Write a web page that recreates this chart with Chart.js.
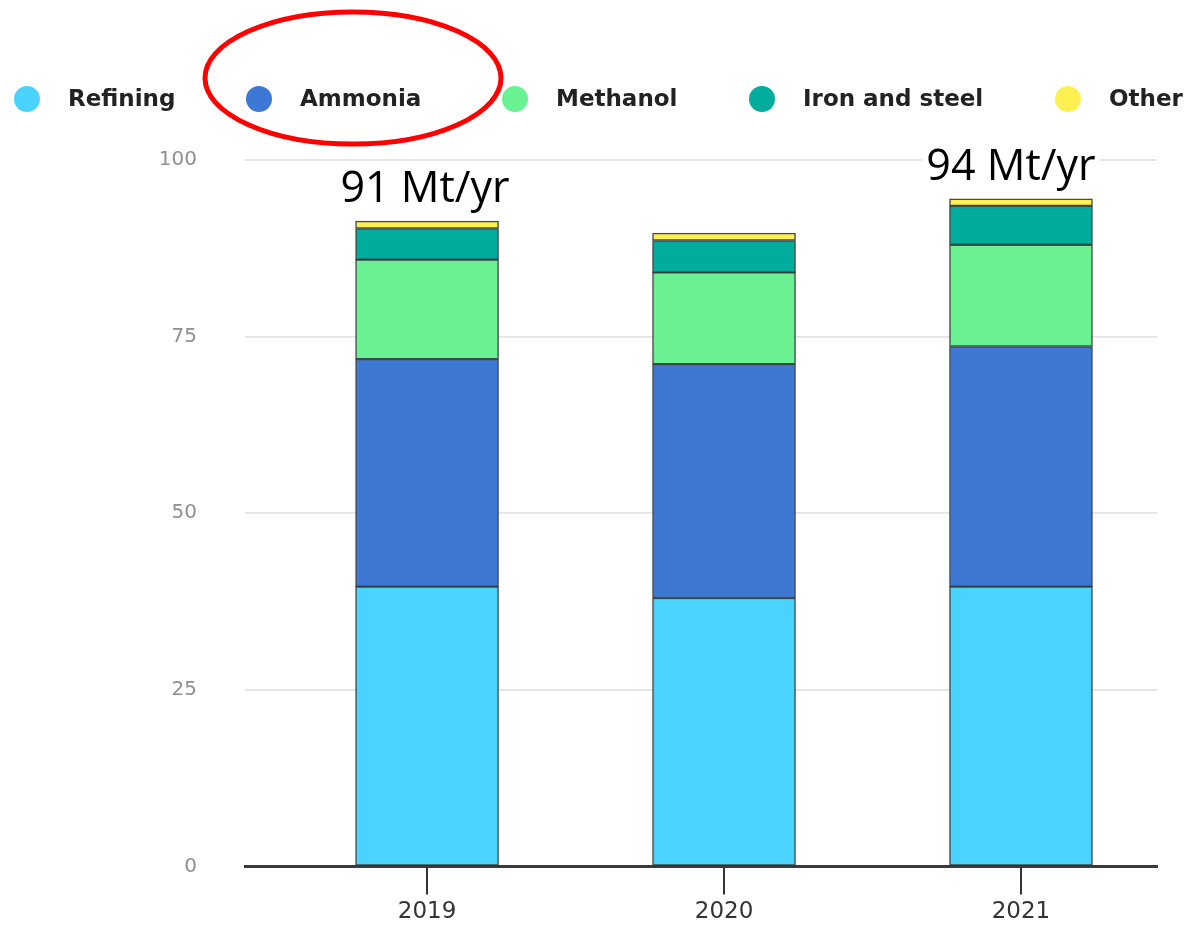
<!DOCTYPE html>
<html>
<head>
<meta charset="utf-8">
<script src="https://cdn.jsdelivr.net/npm/chart.js@4/dist/chart.umd.min.js"></script>
<style>
  html, body { margin: 0; padding: 0; background: #fff; }
  #wrap { width: 1191px; height: 927px; }
</style>
</head>
<body>
<div id="wrap"><canvas id="h2Chart"></canvas></div>
<script>
// hydrogen demand by end use, Mt/yr
const years = [2019, 2020, 2021];
const refining = [39.6, 38.0, 39.6];
const ammonia = [32.2, 33.1, 34.0];
const methanol = [14.1, 13.0, 14.4];
const ironSteel = [4.4, 4.5, 5.5];
const other = [1.05, 1.05, 1.0];
const totalLabels = ["91 Mt/yr", "", "94 Mt/yr"];
const yTicks = [0, 25, 50, 75, 100];

function points(vals) {
  return vals.map((v, i) => ({ x: years[i], y: v }));
}

function series(label, vals, color) {
  return {
    label: label,
    data: points(vals),
    backgroundColor: color,
    borderColor: "rgba(35,45,45,0.85)",
    borderWidth: 1.5,
    borderSkipped: false,
    barThickness: 143
  };
}

// legend drawn by hand so it can spread over the full width
const topLegend = {
  id: "topLegend",
  afterDraw(chart) {
    const ctx = chart.ctx;
    const xs = [27, 259, 515, 762, 1068];
    ctx.save();
    ctx.font = "bold 23px 'DejaVu Sans'";
    ctx.textBaseline = "middle";
    chart.data.datasets.forEach((ds, i) => {
      ctx.fillStyle = ds.backgroundColor;
      ctx.beginPath();
      ctx.arc(xs[i], 99, 13, 0, Math.PI * 2);
      ctx.fill();
      ctx.fillStyle = "#222";
      ctx.fillText(ds.label, xs[i] + 41, 100);
    });
    // red highlight round "Ammonia"
    ctx.strokeStyle = "#f00";
    ctx.lineWidth = 5;
    ctx.beginPath();
    ctx.ellipse(353, 78, 148, 66, 0, 0, Math.PI * 2);
    ctx.stroke();
    ctx.restore();
  }
};

const totals = {
  id: "totals",
  afterDatasetsDraw(chart) {
    const ctx = chart.ctx;
    const meta = chart.getDatasetMeta(chart.data.datasets.length - 1);
    const dx = [-2, 0, -10];
    ctx.save();
    ctx.font = "43px 'Open Sans'";
    ctx.textAlign = "center";
    ctx.textBaseline = "alphabetic";
    totalLabels.forEach((t, i) => {
      if (!t) return;
      const bar = meta.data[i];
      const x = bar.x + dx[i];
      const y = bar.y - 19;
      const w = ctx.measureText(t).width;
      ctx.fillStyle = "#fff";
      ctx.fillRect(x - w / 2 - 4, y - 34, w + 8, 44);
      ctx.fillStyle = "#000";
      ctx.fillText(t, x, y);
    });
    ctx.restore();
  }
};

new Chart(document.getElementById("h2Chart"), {
  type: "bar",
  data: {
    datasets: [
      series("Refining", refining, "#4ad3ff"),
      series("Ammonia", ammonia, "#3d79d4"),
      series("Methanol", methanol, "#6af292"),
      series("Iron and steel", ironSteel, "#00ac9d"),
      series("Other", other, "#fff052")
    ]
  },
  options: {
    responsive: true,
    maintainAspectRatio: false,
    animation: false,
    layout: { padding: { top: 160, right: 34, bottom: -3, left: 0 } },
    plugins: {
      legend: { display: false },
      tooltip: { enabled: false }
    },
    scales: {
      x: {
        type: "linear",
        stacked: true,
        offset: false,
        min: 2018.387,
        max: 2021.458,
        afterBuildTicks: (s) => { s.ticks = years.map((v) => ({ value: v })); },
        ticks: {
          color: "#333",
          font: { family: "DejaVu Sans", size: 23 },
          padding: 4,
          callback: (v) => String(v)
        },
        grid: {
          offset: false,
          drawOnChartArea: false,
          tickLength: 28,
          color: "#333",
          lineWidth: 2
        },
        border: { color: "#3a3a3a", width: 3 }
      },
      y: {
        stacked: true,
        min: 0,
        max: 100,
        afterBuildTicks: (s) => { s.ticks = yTicks.map((v) => ({ value: v })); },
        afterFit: (s) => { s.width = 245; },
        ticks: {
          color: "#8f8f8f",
          font: { family: "DejaVu Sans", size: 20 },
          padding: 48
        },
        grid: {
          drawTicks: false,
          color: (c) => (c.tick && c.tick.value === 0 ? "#3a3a3a" : "#e6e6e6"),
          lineWidth: 2
        },
        border: { display: false }
      }
    }
  },
  plugins: [topLegend, totals]
});
</script>
</body>
</html>
